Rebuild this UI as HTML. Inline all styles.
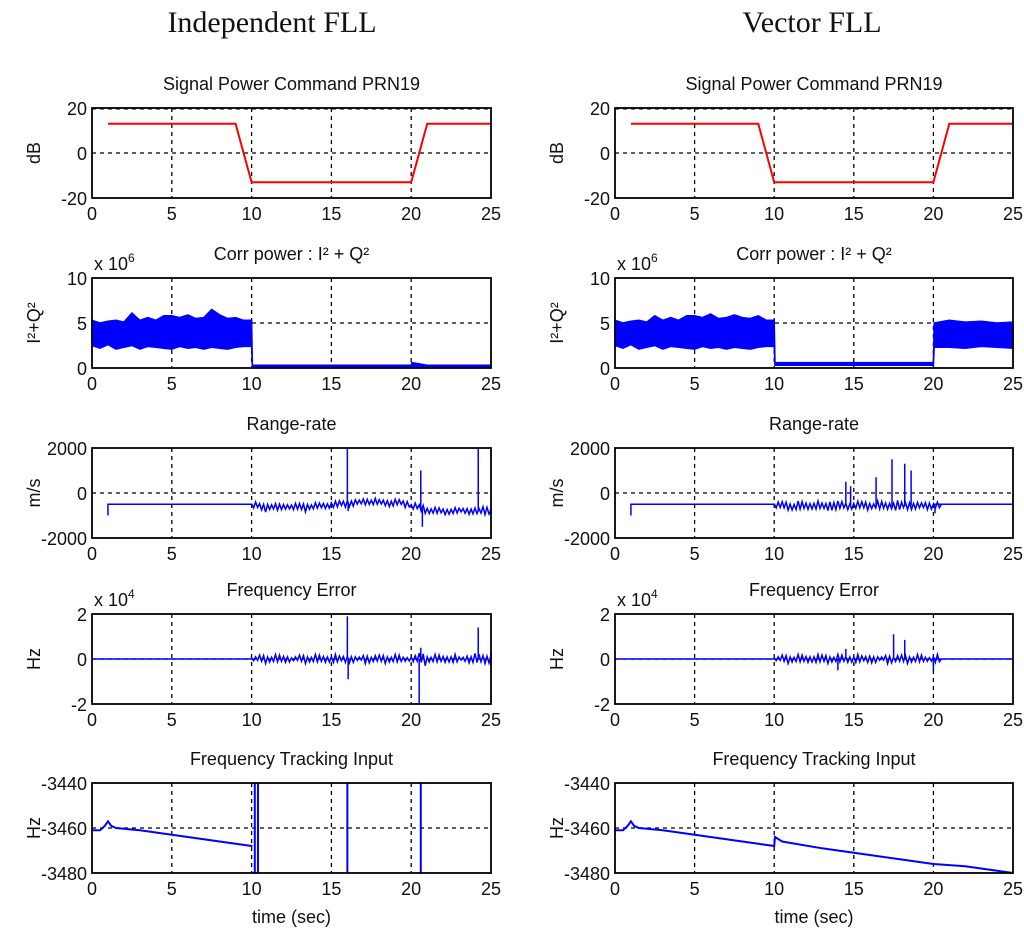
<!DOCTYPE html>
<html><head><meta charset="utf-8"><style>
body{margin:0;background:#fff;width:1024px;height:939px;overflow:hidden}
svg{display:block}
text{font-family:"Liberation Sans",sans-serif;fill:#111}
</style></head><body>
<svg id="fig" width="1024" height="939" viewBox="0 0 1024 939">
<text x="272" y="32" font-size="30" text-anchor="middle" style="font-family:'Liberation Serif',serif">Independent FLL</text>
<text x="812" y="32" font-size="30" text-anchor="middle" style="font-family:'Liberation Serif',serif">Vector FLL</text>
</svg>
<script>
// ---- data ----
const powerT=[1,9,10,20,21,25];
const powerV=[13,13,-13,-13,13,13];
// corr power band (x1e6)
const bandT=[0,0.5,1,1.5,2,2.5,3,3.5,4,4.5,5,5.5,6,6.5,7,7.5,8,8.5,9,9.5,10,10.05,11,12,13,14,15,16,17,18,19,20,20.05,21,22,23,24,25];
const corrUpL=[5.3,5.0,5.2,5.3,5.1,6.1,5.3,5.6,5.3,5.8,5.8,5.6,5.9,5.5,5.6,6.5,5.9,5.5,5.6,5.3,5.3,0.3,0.3,0.3,0.3,0.3,0.3,0.3,0.3,0.3,0.3,0.3,0.6,0.3,0.3,0.3,0.3,0.3];
const corrLoL=[2.5,2.2,2.6,2.1,2.3,2.5,2.1,2.4,2.3,2.2,2.1,2.4,2.2,2.3,2.1,2.3,2.2,2.1,2.3,2.4,2.4,0.1,0.1,0.1,0.1,0.1,0.1,0.1,0.1,0.1,0.1,0.1,0.1,0.1,0.1,0.1,0.1,0.1];
const corrUpR=[5.3,5.0,5.2,5.3,5.1,5.8,5.3,5.6,5.3,5.8,5.8,5.6,6.0,5.5,5.6,5.9,5.6,5.5,5.8,5.3,5.3,0.6,0.6,0.6,0.6,0.6,0.6,0.6,0.6,0.6,0.6,0.6,5.0,5.3,5.1,5.2,5.0,5.1];
const corrLoR=[2.5,2.2,2.6,2.1,2.3,2.5,2.1,2.4,2.3,2.2,2.1,2.4,2.2,2.3,2.1,2.3,2.2,2.1,2.3,2.4,2.4,0.3,0.3,0.3,0.3,0.3,0.3,0.3,0.3,0.3,0.3,0.3,2.3,2.3,2.2,2.4,2.3,2.2];
// range-rate base and noise amplitude (m/s)
const rrT=[10,10.5,11,11.5,12,12.5,13,13.5,14,14.5,15,15.5,16,16.5,17,17.5,18,18.5,19,19.5,20,20.5,21,21.5,22,22.5,23,23.5,24,24.5,25];
const rrBaseL=[-550,-650,-600,-650,-600,-620,-640,-600,-580,-560,-520,-480,-450,-420,-380,-400,-420,-450,-430,-480,-600,-700,-780,-800,-820,-800,-780,-800,-820,-760,-820];
const rrAmpL=[150,200,150,180,120,160,200,140,150,130,160,150,180,120,150,160,140,170,150,160,150,200,150,160,140,150,120,170,150,200,150];
const rrBaseR=[-550,-560,-600,-580,-570,-560,-600,-550,-560,-580,-550,-560,-560,-570,-560,-580,-560,-560,-570,-560,-560,-500,-500,-500,-500,-500,-500,-500,-500,-500,-500];
const rrAmpR=[150,200,180,220,160,200,180,250,200,160,180,200,150,220,160,250,180,200,150,180,150,0,0,0,0,0,0,0,0,0,0];
const rrSpikeTL=[16,16.05,20.6,20.7,24.2,24.25];
const rrSpikeVL=[2000,-800,1000,-1500,2000,-700];
const rrSpikeTR=[14.5,14.8,16.4,17.4,18.2,18.6,20.1];
const rrSpikeVR=[500,300,700,1500,1300,1000,-900];
// freq error (x1e4)
const feAmpL=[0.1,0.2,0.15,0.2,0.15,0.1,0.2,0.15,0.2,0.15,0.2,0.15,0.2,0.1,0.2,0.15,0.2,0.15,0.2,0.1,0.15,0.3,0.15,0.2,0.15,0.2,0.1,0.2,0.25,0.2,0.35];
const feAmpR=[0.1,0.2,0.15,0.2,0.15,0.2,0.2,0.15,0.2,0.15,0.2,0.15,0.2,0.1,0.2,0.15,0.2,0.15,0.2,0.1,0.2,0,0,0,0,0,0,0,0,0,0];
const feSpikeTL=[16,16.05,20.5,20.6,24.2];
const feSpikeVL=[1.9,-0.9,-2,0.5,1.4];
const feSpikeTR=[14,14.5,17.5,18.2,20];
const feSpikeVR=[-0.5,0.45,1.1,0.85,-0.5];
// frequency tracking input (Hz)
const ftT=[0,0.5,0.8,1.0,1.2,1.5,3,5,7,9,10,10.05,10.5,13,15,18,20,22,25];
const ftVL=[-3461,-3461,-3459,-3457,-3459,-3460,-3461,-3463,-3465,-3467,-3468,-3468,-3468,-3468,-3468,-3468,-3468,-3468,-3468];
const ftVR=[-3461,-3461,-3459,-3457,-3459,-3460,-3461,-3463,-3465,-3467,-3468,-3464,-3466,-3469,-3471,-3474,-3476,-3477,-3480];
const ftVertL=[10.2,10.4,16,20.6];
const ftEndL=10.4;

// ---- drawing ----
const NS="http://www.w3.org/2000/svg";
const svg=document.getElementById('fig');
function el(tag,attrs,parent){const e=document.createElementNS(NS,tag);for(const k in attrs)e.setAttribute(k,attrs[k]);(parent||svg).appendChild(e);return e;}
const cols=[{x0:92,x1:491,ylx:40},{x0:615,x1:1013,ylx:563}];
const rows=[108,278,448,614,783];const H=90;
const xTicks=[0,5,10,15,20,25];
const specs=[
 {title:'Signal Power Command PRN19',yl:'dB',yt:[20,0,-20],ymin:-20,ymax:20},
 {title:'Corr power : I² + Q²',yl:'I²+Q²',yt:[10,5,0],ymin:0,ymax:10,exp:'6'},
 {title:'Range-rate',yl:'m/s',yt:[2000,0,-2000],ymin:-2000,ymax:2000},
 {title:'Frequency Error',yl:'Hz',yt:[2,0,-2],ymin:-2,ymax:2,exp:'4'},
 {title:'Frequency Tracking Input',yl:'Hz',yt:[-3440,-3460,-3480],ymin:-3480,ymax:-3440}
];
function pathLine(xs,ys,sx,sy){return xs.map((t,i)=>(i?'L':'M')+sx(t).toFixed(1)+' '+sy(ys[i]).toFixed(1)).join(' ');}
function zig(ts,base,amp,sx,sy){let d='';ts.forEach((t,i)=>{const n=4;const t1=i<ts.length-1?ts[i+1]:t;for(let k=0;k<n;k++){const tt=t+(t1-t)*k/n;const v=base[i]+(k%2?-1:1)*amp[i]*(0.5+0.5*((k*7+i*3)%5)/4);d+=(d?'L':'M')+sx(tt).toFixed(1)+' '+sy(v).toFixed(1)+' ';}});return d;}
cols.forEach((c,ci)=>{
 specs.forEach((s,ri)=>{
  const top=rows[ri],bot=top+H;
  const g=el('g',{});
  
  
  const sx=t=>c.x0+(c.x1-c.x0)*t/25;
  const sy=v=>bot-(v-s.ymin)/(s.ymax-s.ymin)*H;
  xTicks.slice(1,-1).forEach(t=>el('line',{x1:sx(t),x2:sx(t),y1:top,y2:bot,stroke:'#000','stroke-dasharray':'4 4','stroke-width':1.3},g));
  s.yt.slice(1,-1).forEach(v=>el('line',{x1:c.x0,x2:c.x1,y1:sy(v),y2:sy(v),stroke:'#000','stroke-dasharray':'4 4','stroke-width':1.3},g));
  if(ri===0) el('line',{x1:c.x0,x2:c.x1,y1:top+1,y2:top+1,stroke:'#000','stroke-dasharray':'4 4'},g);
  xTicks.forEach(t=>{const tx=el('text',{x:sx(t),y:bot+22,'font-size':18,'text-anchor':'middle'},g);tx.textContent=t;});
  s.yt.forEach(v=>{const tx=el('text',{x:c.x0-5,y:sy(v)+7,'font-size':18,'text-anchor':'end'},g);tx.textContent=v;});
  const tt=el('text',{x:(c.x0+c.x1)/2,y:top-18,'font-size':18,'text-anchor':'middle'},g);tt.textContent=s.title;
  
  const yl=el('text',{x:c.ylx,y:(top+bot)/2,'font-size':18,'text-anchor':'middle',transform:`rotate(-90 ${c.ylx} ${(top+bot)/2})`},g);yl.textContent=s.yl;
  
  if(s.exp){const e=el('text',{x:c.x0+2,y:top-8,'font-size':18},g);e.innerHTML='x 10<tspan font-size="12" dy="-8">'+s.exp+'</tspan>';}
  if(ri===4){const xl=el('text',{x:(c.x0+c.x1)/2,y:bot+50,'font-size':18,'text-anchor':'middle'},g);xl.textContent='time (sec)';}
  const blue='#0000ff';
  if(ri===0){const p=el('path',{d:pathLine(powerT,powerV,sx,sy),stroke:'#ff0000','stroke-width':2,fill:'none'},g);}
  if(ri===1){const up=ci?corrUpR:corrUpL,lo=ci?corrLoR:corrLoL;
   let d=bandT.map((t,i)=>(i?'L':'M')+sx(t)+' '+sy(up[i])).join(' ');
   for(let i=bandT.length-1;i>=0;i--)d+=' L'+sx(bandT[i])+' '+sy(lo[i]);
   const p=el('path',{d:d+'Z',fill:blue,stroke:blue,'stroke-width':1.5},g);}
  if(ri===2||ri===3){
   const isRR=ri===2;
   const flat=isRR?-500:0;
   const base=isRR?(ci?rrBaseR:rrBaseL):rrT.map(()=>0);
   const amp=isRR?(ci?rrAmpR:rrAmpL):(ci?feAmpR:feAmpL);
   let d=(isRR?`M${sx(1)} ${sy(-1000)} L${sx(1)} ${sy(flat)} `:`M${sx(0)} ${sy(flat)} `)+`L${sx(10)} ${sy(flat)} `;
   d+=zig(rrT,base,amp,sx,sy).replace(/^M/,'L');
   if(ci) d+=` M${sx(20)} ${sy(flat)} L${sx(25)} ${sy(flat)}`;
   const st=isRR?(ci?rrSpikeTR:rrSpikeTL):(ci?feSpikeTR:feSpikeTL);
   const sv=isRR?(ci?rrSpikeVR:rrSpikeVL):(ci?feSpikeVR:feSpikeVL);
   st.forEach((t,i)=>{const b=isRR?base[Math.min(base.length-1,Math.round((t-10)*2))]:0;d+=` M${sx(t)} ${sy(b)} L${sx(t)} ${sy(sv[i])}`;});
   const p=el('path',{d:d,fill:'none',stroke:blue,'stroke-width':1.5},g);}
  if(ri===4){
   const vs=ci?ftVR:ftVL;let ts=ftT,vv=vs;
   if(!ci){ts=ftT.filter(t=>t<=ftEndL);vv=vs.slice(0,ts.length);}
   let d=pathLine(ts,vv,sx,sy);
   if(!ci) ftVertL.forEach(t=>{d+=` M${sx(t)} ${top} L${sx(t)} ${bot}`;});
   const p=el('path',{d:d,fill:'none',stroke:blue,'stroke-width':2},g);}
  el('rect',{x:c.x0,y:top,width:c.x1-c.x0,height:H,fill:'none',stroke:'#000','stroke-width':1.8},g);
 });
});
</script>
</body></html>
